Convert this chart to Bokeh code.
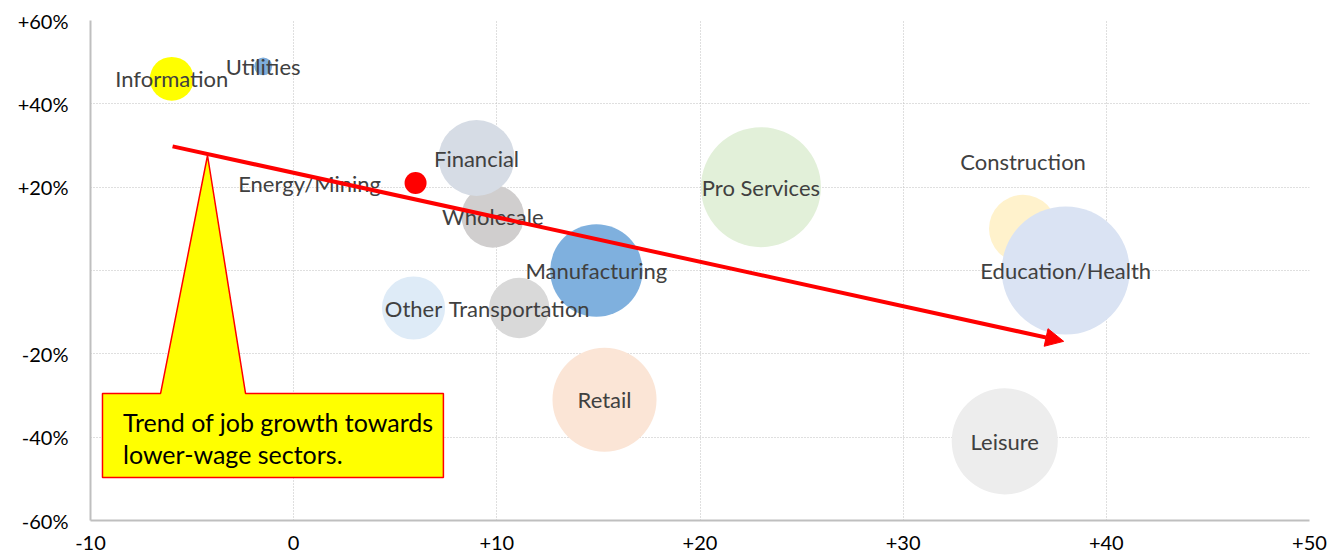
import numpy as np
from bokeh.plotting import figure
from bokeh.models import ColumnDataSource, Range1d, FixedTicker, Arrow, NormalHead
from bokeh.core.properties import value
from bokeh.embed import file_html
from bokeh.resources import INLINE

# ---------------- data ----------------
sectors = ["Information", "Utilities", "Energy/Mining", "Wholesale", "Financial",
           "Manufacturing", "Other", "Transportation", "Retail", "Pro Services",
           "Construction", "Education/Health", "Leisure"]
x_values = [-6.0, -1.5, 6.0, 9.8, 9.0, 14.9, 5.9, 11.1, 15.3, 23.0, 35.9, 38.0, 35.0]
y_values = [46.0, 49.0, 21.0, 13.0, 27.0, 0.0, -9.0, -9.0, -31.0, 20.0, 10.0, 0.0, -41.0]
bubble_sizes = [2.7, 0.45, 0.68, 5.5, 8.1, 12.0, 5.6, 5.1, 15.2, 20.2, 6.5, 23.0, 15.8]
colors = ["#FFFF00", "#7EADDB", "#FF0000", "#D0CECE", "#D6DCE5", "#7FB0DE",
          "#DEEBF7", "#D9D9D9", "#FBE5D6", "#E2F0D9", "#FFF2CC", "#DAE3F3", "#EDEDED"]

x_ticks = [-10, 0, 10, 20, 30, 40, 50]
x_tick_labels = ["-10", "0", "+10", "+20", "+30", "+40", "+50"]
y_ticks = [-60, -40, -20, 0, 20, 40, 60]
y_tick_labels = ["-60%", "-40%", "-20%", "", "+20%", "+40%", "+60%"]

# label placement (screen px offsets from bubble centre)
label_dx = [0, 0, -106, 0, 0, 0, 0, 0, 0, 0, 0, 0, 0]
label_dy = [0, 0, 0, 0, 0, 0, 0, 0, 0, 0, -67, 0, 0]

# trend arrow and callout (annotation geometry, data units)
trend_start = (-5.96, 29.8)
trend_end = (37.9, -17.0)
callout_xs = [-9.41, -6.55, -4.24, -2.37, 7.37, 7.37, -9.41]
callout_ys = [-29.5, -29.5, 27.6, -29.5, -29.5, -49.7, -49.7]
callout_lines = ["Trend of job growth towards", "lower-wage sectors."]
callout_text_x = [-8.4, -8.4]
callout_text_y = [-36.3, -44.0]

MAX_R = 64  # screen px radius of largest bubble
radii = [MAX_R * np.sqrt(s / max(bubble_sizes)) for s in bubble_sizes]

FONT = "Lato"

src = ColumnDataSource(dict(x=x_values, y=y_values, r=radii, color=colors,
                            name=sectors, dx=label_dx, dy=label_dy))

p = figure(output_backend="svg", toolbar_location=None,
           frame_width=1219, frame_height=500,
           min_border_left=90, min_border_top=20, min_border_right=20, min_border_bottom=40,
           x_range=Range1d(-10, 50), y_range=Range1d(-60, 60))
p.outline_line_color = None
p.background_fill_color = "white"
p.border_fill_color = "white"

# axes
for ax in (p.xaxis[0], p.yaxis[0]):
    ax.axis_line_color = "#BFBFBF"
    ax.axis_line_width = 2
    ax.major_tick_line_color = None
    ax.minor_tick_line_color = None
    ax.major_tick_in = 0
    ax.major_tick_out = 0
    ax.major_label_text_font = FONT
    ax.major_label_text_font_size = "20px"
    ax.major_label_text_color = "#000000"

p.xaxis.ticker = FixedTicker(ticks=x_ticks)
p.xaxis.major_label_overrides = {t: l for t, l in zip(x_ticks, x_tick_labels)}
p.xaxis.major_label_standoff = 15
p.yaxis.ticker = FixedTicker(ticks=y_ticks)
p.yaxis.major_label_overrides = {t: l for t, l in zip(y_ticks, y_tick_labels)}
p.yaxis.major_label_standoff = 22

for g in (p.xgrid[0], p.ygrid[0]):
    g.grid_line_color = "#BFBFBF"
    g.grid_line_dash = "1 2"
    g.grid_line_width = 1
p.xgrid.ticker = FixedTicker(ticks=x_ticks)
p.ygrid.ticker = FixedTicker(ticks=y_ticks)

# bubbles
p.circle(x="x", y="y", radius="r", radius_units="screen", source=src,
         fill_color="color", line_color=None)

# bubble labels
p.text(x="x", y="y", text="name", source=src, x_offset="dx", y_offset="dy",
       text_align="center", text_baseline="middle",
       text_font=value(FONT), text_font_size="22px", text_color="#404040")

# callout
p.patch(callout_xs, callout_ys, fill_color="#FFFF00", line_color="#FF0000", line_width=1.5)
p.text(x=callout_text_x, y=callout_text_y, text=callout_lines,
       text_align="left", text_baseline="middle",
       text_font=value(FONT), text_font_size="25px", text_color="#000000")

# trend arrow
p.add_layout(Arrow(x_start=trend_start[0], y_start=trend_start[1],
                   x_end=trend_end[0], y_end=trend_end[1],
                   line_color="#FF0000", line_width=4,
                   end=NormalHead(size=18, fill_color="#FF0000", line_color="#FF0000")))

open("out.html", "w").write(file_html(p, INLINE))
